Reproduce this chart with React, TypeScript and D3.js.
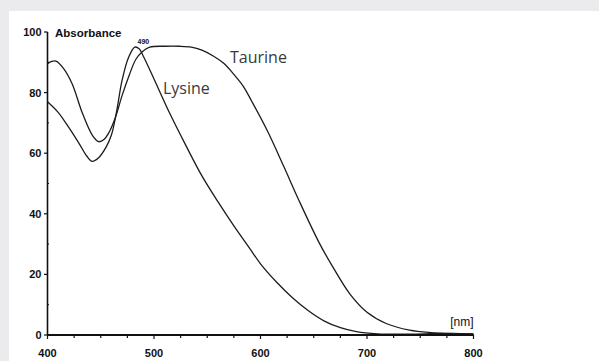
import React from "react";
import * as d3 from "d3";

// Absorption spectra, wavelength in nm against absorbance (%)
const lysineNm = [400, 410, 420, 430, 437, 442, 448, 455, 460, 465, 470, 476, 482, 486, 490, 500, 515, 530, 545, 560, 575, 590, 600, 615, 630, 645, 660, 675, 690, 710, 740, 770, 800];
const lysineAbs = [77, 73.5, 68.5, 63, 59, 57.3, 58.5, 62, 66, 74, 84, 91.5, 95, 94.5, 92, 84.5, 73, 62.5, 52.5, 44, 36, 28.5, 23.5, 17.5, 12.3, 8, 4.6, 2.4, 1.1, 0.4, 0.3, 0.5, 0.3];

const taurineNm = [400, 404, 408, 415, 423, 433, 442, 448, 453, 458, 464, 470, 477, 483, 489, 496, 510, 524, 535, 545, 556, 566, 575, 584, 592, 607, 622, 636, 655, 668, 684, 700, 718, 740, 760, 780, 800];
const taurineAbs = [89.5, 90.3, 90.4, 88, 83, 73, 66, 63.8, 64.5, 67, 72, 79, 86, 91, 93.5, 95, 95.3, 95.3, 95, 94, 92, 89.5, 86, 82, 77, 67, 55.5, 44.5, 30.5, 22.4, 13.5, 7.5, 3.8, 1.6, 0.8, 0.5, 0.4];

const yTicks = [0, 20, 40, 60, 80, 100];
const yMinorTicks = [10, 30, 50, 70, 90];
const xTicks = [400, 500, 600, 700, 800];
const xMinorTicks = [425, 450, 475, 525, 550, 575, 625, 650, 675, 725, 750, 775];
const peakLabel = "490";

const W = 599;
const H = 361;

const x = d3.scaleLinear().domain([400, 800]).range([47.5, 473.5]);
const y = d3.scaleLinear().domain([0, 100]).range([335, 32]);

const line = d3
  .line<[number, number]>()
  .x((d) => x(d[0]))
  .y((d) => y(d[1]))
  .curve(d3.curveCatmullRom.alpha(0.5));

const lysinePath = line(lysineNm.map((n, i) => [n, lysineAbs[i]]) as [number, number][]) || "";
const taurinePath = line(taurineNm.map((n, i) => [n, taurineAbs[i]]) as [number, number][]) || "";

const numFont = "'Liberation Sans', Arial, sans-serif";
const labelFont = "'Open Sans', 'Noto Sans', sans-serif";

export default function App() {
  return (
    <svg
      width={W}
      height={H}
      viewBox={`0 0 ${W} ${H}`}
      style={{ position: "fixed", left: 0, top: 0, display: "block" }}
    >
      <rect x={0} y={0} width={W} height={H} fill="#ebebed" />
      <rect x={9} y={11} width={W - 9} height={H - 11} fill="#ffffff" />

      {/* spectra */}
      <path d={taurinePath} fill="none" stroke="#1c1c1c" strokeWidth={1.3} />
      <path d={lysinePath} fill="none" stroke="#1c1c1c" strokeWidth={1.3} />

      {/* y axis */}
      <line x1={x(400)} x2={x(400)} y1={y(0)} y2={y(100)} stroke="#111" strokeWidth={1.6} />
      {yTicks.map((t) => (
        <g key={`yt${t}`}>
          <line x1={x(400) - 3.5} x2={x(400)} y1={y(t)} y2={y(t)} stroke="#111" strokeWidth={1.2} />
          <text
            x={x(400) - 6}
            y={y(t) + 4}
            textAnchor="end"
            fontFamily={numFont}
            fontWeight="bold"
            fontSize={11}
            fill="#111"
          >
            {t}
          </text>
        </g>
      ))}
      {yMinorTicks.map((t) => (
        <line key={`ym${t}`} x1={x(400)} x2={x(400) + 1.5} y1={y(t)} y2={y(t)} stroke="#111" strokeWidth={1} />
      ))}
      <text x={55} y={36.5} fontFamily={numFont} fontWeight="bold" fontSize={11.5} fill="#111">
        Absorbance
      </text>

      {/* x axis */}
      <line x1={x(400)} x2={x(800)} y1={y(0)} y2={y(0)} stroke="#111" strokeWidth={2} />
      {xTicks.map((t) => (
        <g key={`xt${t}`}>
          <line x1={x(t)} x2={x(t)} y1={y(0)} y2={y(0) + 4} stroke="#111" strokeWidth={1.2} />
          <text
            x={x(t)}
            y={356.5}
            textAnchor="middle"
            fontFamily={numFont}
            fontWeight="bold"
            fontSize={11}
            fill="#111"
          >
            {t}
          </text>
        </g>
      ))}
      {xMinorTicks.map((t) => (
        <line key={`xm${t}`} x1={x(t)} x2={x(t)} y1={y(0)} y2={y(0) + 3} stroke="#111" strokeWidth={1.2} />
      ))}
      <text x={x(800)} y={326} textAnchor="end" fontFamily={numFont} fontSize={12} fill="#111">
        [nm]
      </text>

      {/* annotations */}
      <text x={x(490)} y={44} textAnchor="middle" fontFamily={numFont} fontWeight="bold" fontSize={7} fill="#111">
        {peakLabel}
      </text>
      <text x={230} y={63} fontFamily={labelFont} fontSize={16} fill="#3a3a3a">
        Taurine
      </text>
      <text x={163} y={94} fontFamily={labelFont} fontSize={16} fill="#3a3a3a">
        Lysine
      </text>
    </svg>
  );
}
